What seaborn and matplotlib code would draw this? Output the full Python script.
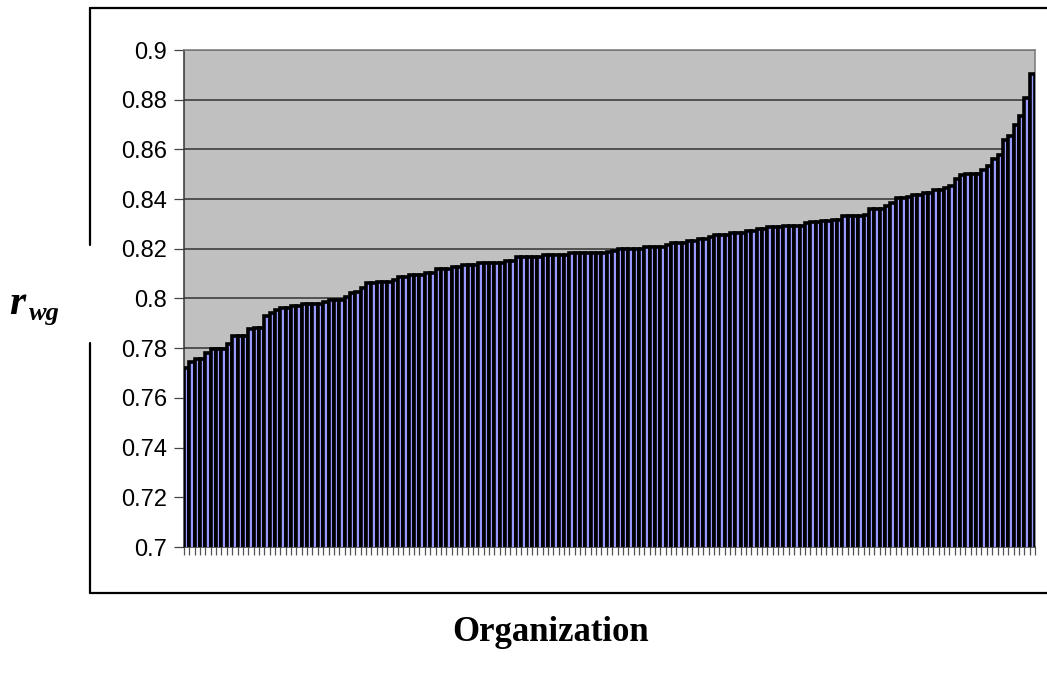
import numpy as np
import matplotlib
matplotlib.use("Agg")
import matplotlib.pyplot as plt
import seaborn as sns
import pandas as pd

# r_wg per organization, sorted ascending
rwg_low = [
    0.772, 0.7746, 0.7755, 0.7755, 0.778, 0.7796, 0.7796, 0.7796, 0.7818, 0.785,
    0.785, 0.785, 0.7876, 0.7883, 0.7883, 0.7931, 0.794, 0.7954, 0.7963, 0.7963,
    0.7971, 0.7971, 0.7979, 0.7979, 0.7979, 0.7979, 0.7987, 0.7994, 0.7994, 0.7994,
    0.8005, 0.8021, 0.8028, 0.8043, 0.8061, 0.8061, 0.8068, 0.8068, 0.8068, 0.8076,
]
rwg_mid1 = [
    0.8085, 0.8085, 0.8093, 0.8093, 0.8093, 0.8101, 0.8101, 0.8117, 0.8117, 0.8117,
    0.8125, 0.8125, 0.8133, 0.8133, 0.8133, 0.8142, 0.8142, 0.8142, 0.8142, 0.8142,
    0.815, 0.815, 0.8166, 0.8166, 0.8166, 0.8166, 0.8166, 0.8174, 0.8174, 0.8174,
    0.8174, 0.8174, 0.8182, 0.8182, 0.8182, 0.8182, 0.8182, 0.8182, 0.8182, 0.8188,
]
rwg_mid2 = [
    0.8192, 0.8198, 0.8198, 0.8198, 0.8198, 0.8198, 0.8206, 0.8206, 0.8206, 0.8206,
    0.8214, 0.8222, 0.8222, 0.8222, 0.823, 0.823, 0.8238, 0.8238, 0.8246, 0.8254,
    0.8254, 0.8254, 0.8262, 0.8262, 0.8262, 0.827, 0.827, 0.8278, 0.8278, 0.8286,
    0.8286, 0.8286, 0.8293, 0.8293, 0.8293, 0.8293, 0.8303, 0.8309, 0.8309,
]
rwg_high = [
    0.831, 0.831, 0.8314, 0.8314, 0.833, 0.833, 0.833, 0.833, 0.8338, 0.8362,
    0.8362, 0.8362, 0.8372, 0.8386, 0.8403, 0.8403, 0.841, 0.8417, 0.8417, 0.8426,
    0.8426, 0.8437, 0.8437, 0.8444, 0.8451, 0.8481, 0.8495, 0.8499, 0.8499, 0.8499,
    0.8517, 0.8533, 0.8563, 0.8579, 0.8636, 0.8654, 0.87, 0.8734, 0.8807, 0.8903,
]
yticks = [0.7, 0.72, 0.74, 0.76, 0.78, 0.8, 0.82, 0.84, 0.86, 0.88, 0.9]
ytick_labels = ["0.7", "0.72", "0.74", "0.76", "0.78", "0.8", "0.82", "0.84", "0.86", "0.88", "0.9"]


def main():
    rwg = rwg_low + rwg_mid1 + rwg_mid2 + rwg_high
    orgs = list(range(1, len(rwg) + 1))
    df = pd.DataFrame({"org": orgs, "rwg": rwg})

    sns.set_style("white", {"axes.facecolor": "#C0C0C0", "text.color": "black",
                            "xtick.color": "black", "ytick.color": "black"})
    plt.rcParams["font.family"] = ["Liberation Sans", "DejaVu Sans"]

    W, H = 1047, 677
    fig = plt.figure(figsize=(W / 100, H / 100), dpi=100)
    ax = fig.add_axes([184 / W, 1 - 547 / H, (1035 - 184) / W, (547 - 50) / H])

    sns.barplot(data=df, x="org", y="rwg", color="#9999FF", saturation=1,
                width=1.0, edgecolor="black", linewidth=2.6, ax=ax, zorder=3)

    ax.set_ylim(0.7, 0.9)
    ax.set_xlim(-0.5, len(rwg) - 0.5)
    ax.set_yticks(yticks)
    ax.set_yticklabels(ytick_labels, fontsize=17, color="black")
    ax.yaxis.grid(True, color="#333333", linewidth=1.1, zorder=0)
    ax.set_axisbelow(True)
    ax.set_xticks(np.arange(len(rwg) + 1) - 0.5)
    ax.set_xticklabels([])
    ax.tick_params(axis="x", length=6, width=0.9, color="#555555", bottom=True, pad=0)
    ax.tick_params(axis="y", length=7, width=0.9, color="#444444", left=True, pad=5)
    ax.set_xlabel("")
    ax.set_ylabel("")
    for side in ["top", "right"]:
        ax.spines[side].set_color("#808080")
        ax.spines[side].set_linewidth(1.2)
    for side in ["left", "bottom"]:
        ax.spines[side].set_color("#333333")
        ax.spines[side].set_linewidth(1.1)

    # outer chart-area border (left side broken by the axis label)
    lw = 1.6
    fig.add_artist(plt.Line2D([90 / W, 1], [1 - 8 / H, 1 - 8 / H], color="black", lw=lw))
    fig.add_artist(plt.Line2D([90 / W, 1], [1 - 593 / H, 1 - 593 / H], color="black", lw=lw))
    fig.add_artist(plt.Line2D([90 / W, 90 / W], [1 - 8 / H, 1 - 245 / H], color="black", lw=lw))
    fig.add_artist(plt.Line2D([90 / W, 90 / W], [1 - 343 / H, 1 - 593 / H], color="black", lw=lw))

    serif = ["Liberation Serif", "DejaVu Serif"]
    fig.text(9 / W, 1 - 314 / H, "r", fontsize=30, fontweight="bold", fontstyle="italic",
             family=serif, ha="left", va="baseline", color="black")
    fig.text(29 / W, 1 - 320 / H, "wg", fontsize=19, fontweight="bold", fontstyle="italic",
             family=serif, ha="left", va="baseline", color="black")
    fig.text(551 / W, 1 - 641 / H, "Organization", fontsize=25, fontweight="bold",
             family=serif, ha="center", va="baseline", color="black")

    fig.savefig("out.png", dpi=100)
    plt.close(fig)


if __name__ == "__main__":
    main()
